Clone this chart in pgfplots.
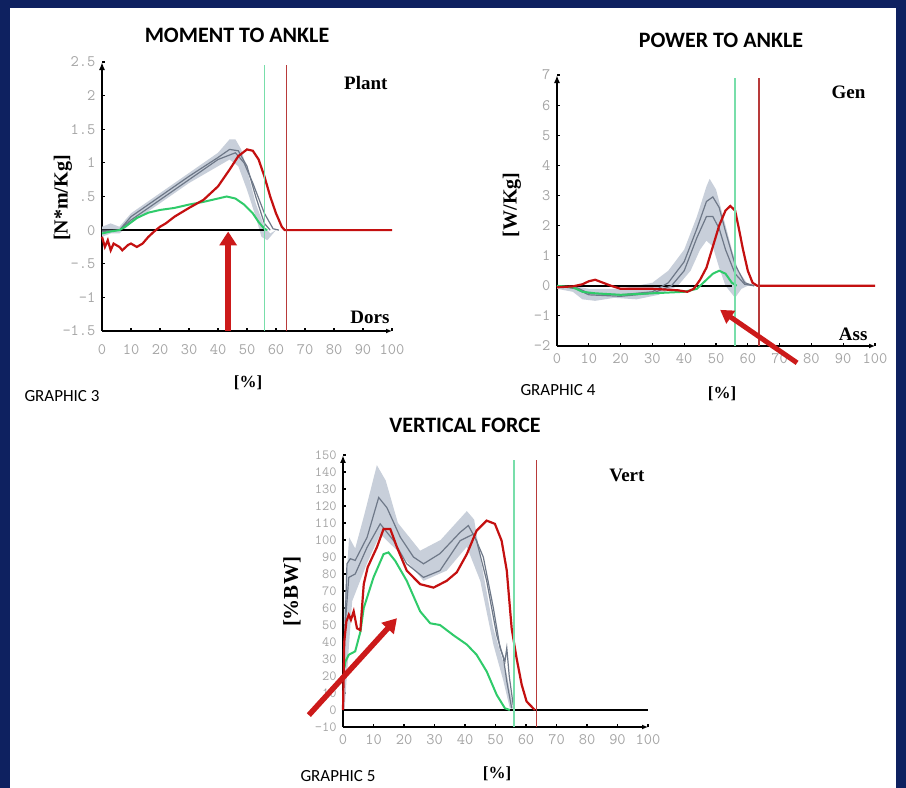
\documentclass[border=0pt]{standalone}
\usepackage{fontspec}
\setmainfont{Liberation Serif}
\setsansfont{Carlito}
\usepackage{pgfplots}
\pgfplotsset{compat=1.18}
\usetikzlibrary{arrows.meta}
\definecolor{navy}{RGB}{14,33,96}
\definecolor{band}{RGB}{200,207,218}
\definecolor{greyline}{RGB}{110,120,136}
\definecolor{greenc}{RGB}{47,203,106}
\definecolor{greenv}{RGB}{120,222,170}
\definecolor{redc}{RGB}{196,16,16}
\definecolor{redv}{RGB}{184,58,58}
\definecolor{arrowred}{RGB}{204,26,26}
\definecolor{tickgrey}{RGB}{165,165,165}
\pgfplotsset{gait/.style={
  axis lines=left, scale only axis, anchor=south west, clip=false,
  axis line style={black, line width=1.6pt},
  x axis line style={-{Latex[length=6pt,width=5pt]}},
  y axis line style={-{Latex[length=8pt,width=6pt]}},
  tick style={black, line width=1.2pt},
  major tick length=2.5pt, tick align=inside,
  tick label style={font=\fontsize{16}{18}\ttfamily, text=tickgrey},
  /pgf/number format/assume math mode=true,
  xmin=0, xmax=100, xtick={0,10,...,100},
  xticklabel style={yshift=-4pt},
  yticklabel style={xshift=-3pt},
}}
\begin{document}
\begin{tikzpicture}
\path[use as bounding box] (0,0) rectangle (906pt,788pt);
\fill[navy] (0,0) rectangle (906pt,788pt);
\fill[white] (10pt,0) rectangle (896pt,780pt);

% ---------------- GRAPHIC 3: moment ----------------
\begin{axis}[gait, at={(102pt,457pt)}, width=290pt, height=269pt,
  ymin=-1.5, ymax=2.5, ytick={-1.5,-1,-0.5,0,0.5,1,1.5,2,2.5},
  yticklabels={-1.5,-1,-.5,0,.5,1,1.5,2,2.5},
  xticklabel style={yshift=-6pt}]
\addplot[fill=band, draw=none] coordinates {(0,0.05)(3,0.1)(6,0.05)(10,0.25)(20,0.55)(30,0.85)(40,1.15)(44,1.35)(46,1.35)(48,1.2)(50,0.9)(53,0.4)(56,0.05)(58,-0.05)(60,0)
 (60,0)(57,-0.15)(55,-0.1)(53,0.2)(50,0.6)(47,0.95)(44,1.05)(40,0.95)(30,0.7)(20,0.4)(10,0.1)(6,-0.05)(3,-0.05)(0,-0.1)} -- cycle;
\addplot[black, line width=1.5pt] coordinates {(0,0)(56,0)};
\addplot[greyline, line width=1.2pt] coordinates {(0,0)(6,0)(10,0.2)(20,0.5)(30,0.8)(40,1.08)(44,1.2)(47,1.18)(50,0.95)(53,0.5)(56,0.1)(58,0)};
\addplot[greyline, line width=1.2pt] coordinates {(0,-0.02)(6,0)(10,0.15)(20,0.45)(30,0.75)(40,1.05)(46,1.15)(49,1.0)(52,0.7)(56,0.25)(59,0.02)(61,0)};
\addplot[greenc, line width=2pt] coordinates {(0,-0.05)(3,-0.02)(6,0.0)(8,0.05)(12,0.18)(16,0.26)(20,0.3)(25,0.33)(30,0.38)(35,0.42)(40,0.47)(43,0.5)(46,0.47)(49,0.38)(52,0.25)(54,0.12)(56,0.02)(57,0)};
\addplot[redc, line width=2.2pt] coordinates {(0,-0.1)(1,-0.25)(2,-0.15)(3,-0.3)(4,-0.2)(6,-0.25)(7,-0.3)(9,-0.22)(10,-0.2)(12,-0.25)(14,-0.2)(16,-0.1)(18,-0.02)(20,0.05)(22,0.1)(25,0.2)(30,0.33)(35,0.45)(40,0.65)(44,0.9)(47,1.1)(50,1.2)(52,1.18)(54,1.05)(56,0.8)(58,0.5)(60,0.25)(62,0.05)(63,0)(100,0)};
\addplot[greenv, line width=1.5pt] coordinates {(56,-1.5)(56,2.45)};
\addplot[redv, line width=1.2pt] coordinates {(63.5,-1.5)(63.5,2.45)};
\addplot[arrowred, line width=6pt, -{Triangle[length=14pt,width=17pt]}] coordinates {(43.5,-1.5)(43.5,-0.02)};
\end{axis}

% ---------------- GRAPHIC 4: power ----------------
\begin{axis}[gait, at={(557pt,442pt)}, width=318pt, height=271pt,
  ymin=-2, ymax=7, ytick={-2,-1,0,1,2,3,4,5,6,7},
  yticklabels={-2,-1,0,1,2,3,4,5,6,7}]
\addplot[fill=band, draw=none] coordinates {(0,0)(5,0)(10,-0.1)(20,-0.1)(30,0.1)(35,0.5)(40,1.2)(44,2.3)(47,3.3)(48,3.55)(50,3.2)(52,2.4)(55,1.2)(57,0.5)(60,0.05)(63,0)
 (60,0)(58,-0.1)(56,-0.4)(53,0)(51,0.6)(49,1.3)(47,1.5)(45,1.2)(42,0.5)(38,0)(32,-0.3)(25,-0.45)(18,-0.4)(12,-0.5)(8,-0.45)(5,-0.2)(0,-0.1)} -- cycle;
\addplot[black, line width=1.5pt] coordinates {(0,0)(55,0)};
\addplot[greyline, line width=1.2pt] coordinates {(0,0)(6,-0.05)(10,-0.25)(20,-0.3)(30,-0.2)(35,0.1)(40,0.8)(44,1.9)(47,2.8)(49,2.95)(51,2.6)(53,1.8)(56,0.7)(59,0.1)(62,0)};
\addplot[greyline, line width=1.2pt] coordinates {(0,0)(6,-0.1)(10,-0.3)(20,-0.35)(30,-0.25)(36,0)(40,0.5)(44,1.6)(47,2.3)(49,2.3)(51,1.9)(53,1.2)(56,0.4)(59,0.05)(62,0)};
\addplot[greenc, line width=2pt] coordinates {(0,0)(5,-0.05)(8,-0.2)(12,-0.25)(20,-0.3)(30,-0.25)(40,-0.2)(44,-0.1)(47,0.2)(49,0.4)(51,0.5)(53,0.4)(55,0.1)(56.5,0)};
\addplot[redc, line width=2.2pt] coordinates {(0,-0.05)(5,-0.02)(8,0.05)(10,0.15)(12,0.2)(14,0.12)(17,0)(20,-0.1)(30,-0.1)(38,-0.15)(41,-0.2)(43,-0.1)(45,0.2)(47,0.6)(49,1.3)(51,2.0)(53,2.5)(54.5,2.65)(56,2.5)(57,2.0)(58.5,1.2)(60,0.5)(61.5,0.1)(63,0)(100,0)};
\addplot[greenv, line width=1.5pt] coordinates {(56,-2)(56,6.9)};
\addplot[redv, line width=1.2pt] coordinates {(63.5,-2)(63.5,6.9)};
\addplot[arrowred, line width=5pt, -{Triangle[length=13pt,width=15pt]}] coordinates {(75.5,-2.56)(51.3,-0.8)};
\end{axis}

% ---------------- GRAPHIC 5: vertical force ----------------
\begin{axis}[gait, at={(343pt,61pt)}, width=305pt, height=272pt,
  ymin=-10, ymax=150, ytick={-10,0,10,...,150},
  yticklabels={-10,0,10,20,30,40,50,60,70,80,90,100,110,120,130,140,150},
  yticklabel style={font=\fontsize{14}{14}\ttfamily, text=tickgrey}]
\addplot[fill=band, draw=none] coordinates {(0,0)(0.5,60)(2,101.6)(4,95)(7,115)(11.1,144)(14,135)(18,110)(25.3,93.7)(32,100)(40.6,117)(43,112)(45,90)(49.3,48)(53.7,21)(55.8,1)
 (54.7,1)(52.6,17)(49.3,38.5)(45,76)(40.6,96)(34,82)(26.4,76)(18.8,92)(12.2,103.5)(7.8,86)(3,64)(1.3,21)(0.5,0)} -- cycle;
\addplot[black, line width=1.5pt] coordinates {(0,0)(100,0)};
\addplot[greyline, line width=1.2pt] coordinates {(0.2,21)(1.3,86)(2.4,89)(4,88)(7.9,101.6)(11.7,125)(14.4,119)(18.8,101.6)(23.1,90)(26.4,86)(31.8,92)(38.4,104.5)(41.1,108.5)(43.8,99.6)(47.1,76)(50.4,44)(52.6,30.6)(53.7,16.8)(55.3,1)};
\addplot[greyline, line width=1.2pt] coordinates {(0.8,52)(1.9,78)(4,80)(7.9,95.7)(12.2,109.5)(16.6,99.6)(20.9,86)(26.4,78)(31.8,82)(38.4,99.6)(42.8,103.5)(46,90)(49.3,60)(51.5,36.5)(53.1,28.6)(53.7,36.5)(54.5,20)(55.8,3)};
\addplot[greenc, line width=2pt] coordinates {(0.5,25)(0.8,28.6)(1.9,32.5)(4,34.5)(5.7,46)(6.8,60)(10,78)(13.3,91.7)(14.9,92.7)(17.1,87.8)(20.9,76)(25.3,58)(28.6,51)(31.8,50)(36.2,44)(40.6,38.5)(43.8,32.5)(47.1,22.7)(50.4,8.9)(53.1,1)(54.7,0)};
\addplot[redc, line width=2.2pt] coordinates {(0,0)(0.4,40)(1.1,52)(1.9,56)(2.6,53)(3.5,58)(4.6,48)(5.7,47)(6.8,74)(8.1,84)(11.1,95.7)(13.3,106.5)(15.5,106.5)(17.7,95.7)(20.9,82)(25.3,74)(29.7,72)(34,76)(37.3,81)(40.6,91.7)(43.8,105.5)(47.1,111.4)(49.8,109.5)(52,99.6)(53.7,82)(55.3,48)(56.9,30.6)(58.6,14.8)(60.2,5)(62.9,0)};
\addplot[greenv, line width=1.5pt] coordinates {(56,-10)(56,147)};
\addplot[redv, line width=1.2pt] coordinates {(63.5,-10)(63.5,147)};
\addplot[arrowred, line width=5.5pt, -{Triangle[length=14pt,width=16pt]}] coordinates {(-11.2,-3)(17.7,54)};
\end{axis}

% ---------------- texts ----------------
\node[font=\sffamily\bfseries\fontsize{22}{23}\selectfont] at (237pt,753pt) {MOMENT TO ANKLE};
\node[font=\sffamily\bfseries\fontsize{22}{23}\selectfont] at (721pt,748pt) {POWER TO ANKLE};
\node[font=\sffamily\bfseries\fontsize{22}{23}\selectfont] at (465pt,363pt) {VERTICAL FORCE};
\node[font=\sffamily\fontsize{17}{18}\selectfont] at (62pt,392pt) {GRAPHIC 3};
\node[font=\sffamily\fontsize{17}{18}\selectfont] at (558pt,398pt) {GRAPHIC 4};
\node[font=\sffamily\fontsize{17}{18}\selectfont] at (338pt,12pt) {GRAPHIC 5};
\node[font=\bfseries\fontsize{19}{20}\selectfont, anchor=east] at (391pt,705pt) {Plant};
\node[font=\bfseries\fontsize{19}{20}\selectfont, anchor=east] at (393pt,471pt) {Dors};
\node[font=\bfseries\fontsize{19}{20}\selectfont, anchor=east] at (869pt,696pt) {Gen};
\node[font=\bfseries\fontsize{19}{20}\selectfont, anchor=east] at (871pt,454pt) {Ass};
\node[font=\bfseries\fontsize{19}{20}\selectfont, anchor=east] at (648pt,313pt) {Vert};
\node[font=\bfseries\fontsize{17}{18}\selectfont] at (248pt,405pt) {[\%]};
\node[font=\bfseries\fontsize{17}{18}\selectfont] at (722pt,394pt) {[\%]};
\node[font=\bfseries\fontsize{17}{18}\selectfont] at (497pt,14pt) {[\%]};
\node[font=\bfseries\fontsize{20}{21}\selectfont, rotate=90] at (63pt,590pt) {[N*m/Kg]};
\node[font=\bfseries\fontsize{20}{21}\selectfont, rotate=90] at (512pt,583pt) {[W/Kg]};
\node[font=\bfseries\fontsize{21}{22}\selectfont, rotate=90] at (292pt,196pt) {[\%BW]};
\end{tikzpicture}
\end{document}
